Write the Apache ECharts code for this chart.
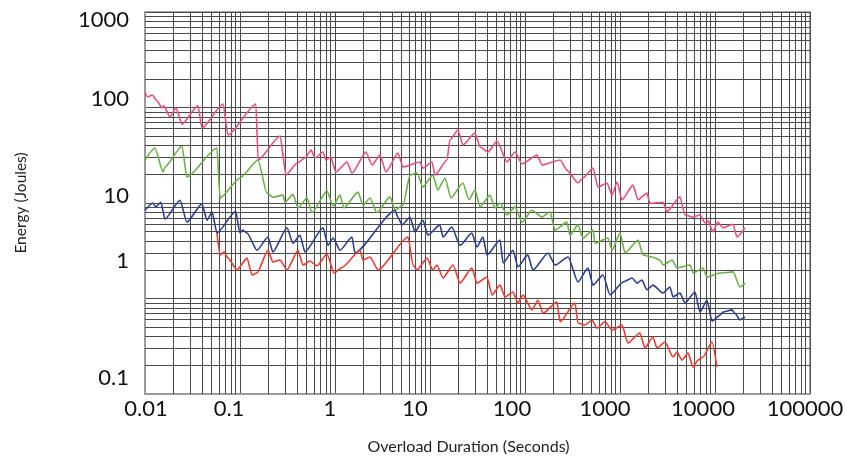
<!DOCTYPE html>
<html>
<head>
<meta charset="utf-8">
<script src="https://cdn.jsdelivr.net/npm/echarts@6/dist/echarts.min.js"></script>
<style>
  html, body { margin: 0; background: #fff; }
  #chart { width: 847px; height: 459px; }
</style>
</head>
<body>
<div id="chart"></div>
<script>
// tick labels
const xTickLabels = ['0.01', '0.1', '1', '10', '100', '1000', '10000', '100000'];
const yTickLabels = ['0.1', '1', '10', '100', '1000'];

// [seconds, joules]
const pinkPoints = [
  [0.01, 142], [0.0107, 129], [0.0119, 135], [0.0134, 117], [0.0151, 99], [0.0158, 104],
  [0.0183, 80], [0.0212, 99], [0.0245, 67], [0.0361, 104], [0.0398, 61], [0.0663, 109],
  [0.0748, 51.5], [0.147, 109], [0.155, 28.2], [0.264, 50.3], [0.305, 19.6], [0.398, 26.2],
  [0.483, 29.6], [0.56, 35.8], [0.616, 29.6], [0.748, 34.2], [0.803, 28.2], [0.9, 30.3],
  [1.02, 21.1], [1.34, 26.9], [1.51, 20.6], [2.12, 34.2], [2.45, 25], [2.98, 31.8],
  [3.44, 21.1], [4.6, 33.3], [5.2, 23.8], [7.85, 26.9], [8.4, 23.2], [10.5, 26.9],
  [11.3, 19.6], [15.1, 28.2], [16.2, 45.7], [19.7, 58.1], [22.2, 40.5], [29.8, 54.1],
  [33.6, 38.6], [40.8, 34.2], [50.8, 44.6], [64.6, 26.9], [78.5, 34.2], [93, 25.6],
  [134, 31.8], [151, 25], [234, 28.2], [276, 22.1], [361, 16.2], [408, 18.3],
  [520, 23.2], [586, 14.7], [730, 16.2], [824, 12.1], [930, 16.6], [1050, 10.8],
  [1370, 15.4], [1550, 10.8], [1920, 12.7], [2070, 9.9], [2840, 10.2], [3120, 8.1],
  [4280, 11.6], [4830, 7.5], [5880, 7.1], [6950, 7.5], [7850, 6.2], [8430, 6.5],
  [9540, 5.0], [10700, 6.3], [12140, 5.5], [15470, 6.0], [17040, 4.4], [20690, 5.5]
];

const greenPoints = [
  [0.01, 28.2], [0.0127, 37.7], [0.0155, 21.1], [0.0162, 23.8], [0.0245, 39.5], [0.0276, 18.7],
  [0.0572, 37.7], [0.0616, 11.3], [0.1, 18.3], [0.155, 28.2], [0.192, 12.7], [0.222, 11.5],
  [0.284, 12.1], [0.298, 10.2], [0.361, 12.3], [0.408, 8.9], [0.508, 11.3], [0.572, 7.9],
  [0.824, 13.4], [0.954, 9.3], [1.13, 12.1], [1.24, 8.9], [1.75, 13.0], [1.97, 9.5],
  [2.34, 11.3], [2.76, 7.9], [3.79, 11.6], [4.28, 8.4], [5.2, 9.5], [6.16, 19.6],
  [7.3, 20.6], [8.4, 14.7], [10.7, 19.6], [12.1, 13.7], [14.4, 18.3], [16.6, 11.3],
  [22.2, 16.2], [25.7, 10.8], [29.8, 13.7], [33.6, 9.1], [42.8, 12.1], [48.3, 8.9],
  [54.6, 10], [64.6, 7.5], [78.5, 9.1], [93, 6.3], [118, 8.4], [151, 7.1],
  [183, 8.1], [207, 5.2], [276, 6.3], [298, 4.6], [361, 5.9], [408, 4.3],
  [520, 5.2], [546, 3.8], [748, 4.3], [824, 3.2], [1000, 4.85], [1130, 3.0],
  [1550, 4.1], [1750, 2.86], [2170, 2.72], [2640, 2.53], [2840, 2.24], [3530, 2.53],
  [3980, 2.09], [5460, 2.24], [5880, 1.85], [7480, 2.09], [8250, 1.68], [11300, 1.85],
  [15500, 1.9], [18300, 1.32], [20700, 1.45]
];

const bluePoints = [
  [0.01, 8.4], [0.0121, 10], [0.013, 9.1], [0.0147, 10.2], [0.0162, 6.8], [0.0234, 10.7],
  [0.0276, 6.3], [0.0398, 9.8], [0.045, 6.6], [0.0508, 8.1], [0.0572, 4.85], [0.09, 8.2],
  [0.1, 4.85], [0.107, 5.2], [0.1185, 4.85], [0.151, 3.2], [0.197, 4.4], [0.222, 3.07],
  [0.312, 5.5], [0.361, 3.8], [0.428, 4.6], [0.483, 3.07], [0.748, 5.5], [0.843, 3.6],
  [0.954, 4.3], [1.13, 3.2], [1.51, 4.4], [1.62, 3.0], [4.28, 8.4], [4.6, 7.1],
  [5.08, 5.9], [6.16, 7.1], [6.95, 5.0], [8.43, 6.6], [9.5, 4.6], [12.7, 5.9],
  [13.7, 4.4], [17.0, 5.6], [20.7, 3.6], [27.6, 4.85], [31.2, 3.46], [36.1, 4.4],
  [39.8, 2.86], [54.6, 4.1], [58.8, 2.35], [74.8, 3.2], [84.3, 2.14], [107, 2.86],
  [121, 1.99], [175, 3.0], [207, 2.24], [284, 2.72], [361, 1.49], [460, 2.09],
  [520, 1.38], [663, 1.76], [785, 1.09], [1075, 1.49], [1340, 1.64], [1510, 1.45],
  [1700, 1.56], [1920, 1.23], [2220, 1.38], [2840, 1.14], [3360, 1.32], [3610, 1.04],
  [4280, 1.14], [4830, 0.897], [6160, 1.17], [6950, 0.72], [8250, 0.96], [9300, 0.58],
  [11300, 0.67], [12100, 0.72], [15100, 0.76], [16200, 0.70], [18300, 0.60], [20700, 0.64]
];

const redPoints = [
  [0.0572, 4.85], [0.0616, 2.86], [0.0679, 3.07], [0.0748, 2.65], [0.093, 1.99], [0.1185, 2.65],
  [0.134, 1.76], [0.151, 1.85], [0.197, 3.2], [0.222, 2.41], [0.264, 2.53], [0.312, 1.99],
  [0.408, 3.2], [0.46, 2.24], [0.546, 2.47], [0.646, 2.2], [0.824, 2.92], [0.977, 1.85],
  [1.21, 2.14], [1.83, 3.2], [1.97, 2.53], [2.34, 2.72], [2.84, 1.99], [5.88, 4.4],
  [6.63, 2.24], [7.3, 1.99], [9.3, 2.65], [10.7, 1.99], [11.85, 2.24], [13.7, 1.64],
  [17.5, 2.24], [20.7, 1.45], [27.6, 2.09], [31.2, 1.45], [39.8, 1.68], [45, 1.09],
  [54.6, 1.38], [61.6, 1.04], [74.8, 1.17], [84.3, 0.897], [95.4, 1.09], [118, 0.76],
  [137, 0.96], [155, 0.70], [217, 0.92], [234, 0.57], [336, 0.897], [361, 0.554],
  [428, 0.528], [508, 0.595], [572, 0.49], [695, 0.57], [824, 0.468], [1050, 0.528],
  [1210, 0.342], [1620, 0.435], [1830, 0.303], [2220, 0.395], [2450, 0.303], [2980, 0.35],
  [3610, 0.244], [3980, 0.275], [4500, 0.227], [5200, 0.268], [5880, 0.192], [6630, 0.227],
  [7480, 0.244], [9300, 0.35], [10500, 0.192]
];

// label nudges (text centre vs tick, px) as in the original scan
const xLabelShift = [1, -11, -5, -15, -13, -15, -12, -5];
const yLabelShift = [-16, -38, -7, -9, 8];

const labelFont = { fontFamily: 'Lato', fontSize: 22, color: '#111' };
const xRich = {}, yRich = {};
xLabelShift.forEach((s, i) => {
  xRich['x' + i] = Object.assign({ padding: s < 0 ? [0, -2 * s, 0, 0] : [0, 0, 0, 2 * s] }, labelFont);
});
yLabelShift.forEach((s, i) => {
  yRich['y' + i] = Object.assign({ padding: s < 0 ? [0, 0, -2 * s, 0] : [2 * s, 0, 0, 0] }, labelFont);
});

// log-paper grid lines 2..9 within each decade
const gridColor = '#4a4a4a';
const xGrid = [], yGrid = [];
for (let e = -2; e < 5; e++) for (let m = 2; m <= 9; m++) xGrid.push({ xAxis: m * Math.pow(10, e) });
for (let e = -1; e < 3; e++) for (let m = 2; m <= 9; m++) yGrid.push({ yAxis: m * Math.pow(10, e) });

const lineSeries = (name, data, color) => ({
  name, type: 'line', data, showSymbol: false, smooth: 0.2, smoothMonotone: 'x',
  lineStyle: { color, width: 1.6 }, itemStyle: { color }, z: 5
});

const chart = echarts.init(document.getElementById('chart'), null, { renderer: 'canvas' });
chart.setOption({
  animation: false,
  grid: { left: 145, right: 37, top: 12, bottom: 65, outerBoundsMode: 'none',
          show: true, borderColor: '#a8a8a8', borderWidth: 2 },
  xAxis: {
    type: 'log', logBase: 10, min: 0.01, max: 100000, splitNumber: 7,
    name: 'Overload Duration (Seconds)', nameLocation: 'middle', nameGap: 45,
    nameTextStyle: { fontFamily: 'Lato', fontSize: 16, color: '#222', padding: [0, 18, 0, 0] },
    axisLine: { onZero: false, lineStyle: { color: '#9a9a9a', width: 2 } },
    axisTick: { show: false },
    splitLine: { lineStyle: { color: gridColor, width: 1 } },
    axisLabel: {
      margin: 4, showMinLabel: true, showMaxLabel: true,
      formatter: v => {
        const i = Math.round(Math.log10(v)) + 2;
        return '{x' + i + '|' + xTickLabels[i] + '}';
      },
      rich: xRich
    }
  },
  yAxis: {
    type: 'log', logBase: 10, min: 0.1, max: 1000, splitNumber: 4,
    name: 'Energy (Joules)', nameLocation: 'middle', nameGap: 116, nameRotate: 90,
    nameTextStyle: { fontFamily: 'Lato', fontSize: 15.5, color: '#222' },
    axisLine: { onZero: false, lineStyle: { color: '#9a9a9a', width: 2 } },
    axisTick: { show: false },
    splitLine: { lineStyle: { color: gridColor, width: 1 } },
    axisLabel: {
      margin: 16, showMinLabel: true, showMaxLabel: true,
      formatter: v => {
        const i = Math.round(Math.log10(v)) + 1;
        return '{y' + i + '|' + yTickLabels[i] + '}';
      },
      rich: yRich
    }
  },
  series: [
    {
      type: 'line', data: [], silent: true, z: 1,
      markLine: {
        silent: true, symbol: ['none', 'none'], label: { show: false }, animation: false,
        lineStyle: { color: gridColor, width: 1, type: 'solid' },
        data: xGrid.concat(yGrid)
      }
    },
    lineSeries('pink', pinkPoints, '#e8507e'),
    lineSeries('green', greenPoints, '#6cb04a'),
    lineSeries('blue', bluePoints, '#2b3e8e'),
    lineSeries('red', redPoints, '#e93b2f')
  ]
});
</script>
</body>
</html>
